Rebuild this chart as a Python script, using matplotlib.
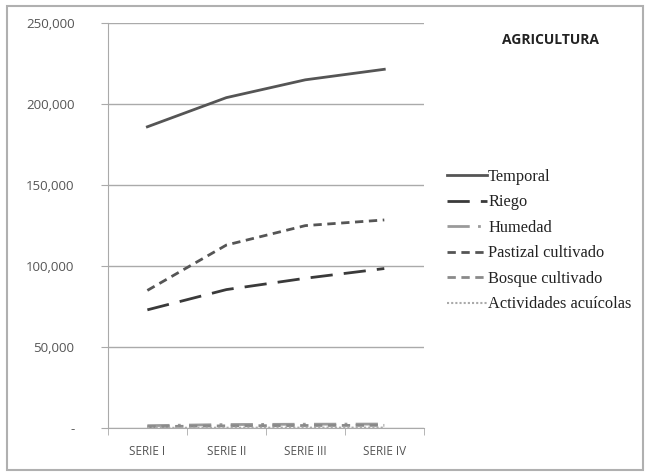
import matplotlib
matplotlib.use('Agg')
import matplotlib.pyplot as plt
import numpy as np

# data
series_labels = ['SERIE I', 'SERIE II', 'SERIE III', 'SERIE IV']
temporal = [186000, 204000, 215000, 221500]
riego = [73000, 85500, 92500, 98500]
humedad = [1500, 2200, 2400, 2500]
pastizal = [85000, 113000, 125000, 128500]
bosque = [900, 1400, 1600, 1700]
acuicolas = [150, 250, 300, 300]

yticks = [0, 50000, 100000, 150000, 200000, 250000]
ytick_labels = ['-', '50,000', '100,000', '150,000', '200,000', '250,000']

fig = plt.figure(figsize=(6.46, 4.72), dpi=100)
ax = fig.add_axes([0.167, 0.093, 0.489, 0.858])

x = np.arange(len(series_labels))
ax.plot(x, temporal, color='#555555', lw=2, ls='-', label='Temporal')
ax.plot(x, riego, color='#3a3a3a', lw=2, ls=(0, (8, 4)), label='Riego')
ax.plot(x, humedad, color='#9a9a9a', lw=2, ls=(0, (8, 3, 1, 3)), label='Humedad')
ax.plot(x, pastizal, color='#555555', lw=2, ls=(0, (3, 2)), label='Pastizal cultivado')
ax.plot(x, bosque, color='#8a8a8a', lw=2, ls=(0, (3, 2)), label='Bosque cultivado')
ax.plot(x, acuicolas, color='#aaaaaa', lw=1.5, ls=(0, (1, 1)), label='Actividades acuícolas')

ax.set_xlim(-0.5, len(series_labels) - 0.5)
ax.set_ylim(0, 250000)
ax.set_yticks(yticks)
ax.set_yticklabels(ytick_labels)
ax.set_xticks(x)
ax.set_xticklabels(series_labels)
ax.set_xticks(np.arange(-0.5, len(series_labels)), minor=True)

for lbl in ax.get_yticklabels():
    lbl.set_family('Open Sans')
    lbl.set_fontsize(9.5)
    lbl.set_color('#555555')
for lbl in ax.get_xticklabels():
    lbl.set_family('Open Sans')
    lbl.set_fontsize(8.5)
    lbl.set_color('#555555')
ax.tick_params(axis='x', which='major', length=0, pad=12)
ax.tick_params(axis='x', which='minor', length=5, color='#aaaaaa')
ax.tick_params(axis='y', length=5, color='#aaaaaa', pad=19)

ax.grid(axis='y', color='#aaaaaa', lw=1)
ax.set_axisbelow(True)
for side in ['top', 'right']:
    ax.spines[side].set_visible(False)
ax.spines['left'].set_color('#aaaaaa')
ax.spines['bottom'].set_color('#aaaaaa')

leg = fig.legend(loc='upper left', bbox_to_anchor=(0.682, 0.656), frameon=False,
                 prop={'family': 'Liberation Serif', 'size': 11.8},
                 handlelength=2.45, handletextpad=0.05, labelspacing=0.58,
                 borderaxespad=0)
for t in leg.get_texts():
    t.set_color('#222222')

fig.text(0.852, 0.915, 'AGRICULTURA', family='Open Sans', weight='bold',
         fontsize=10, color='#222222', ha='center', va='center')

border = plt.Rectangle((0.011, 0.005), 0.985, 0.983, transform=fig.transFigure,
                       fill=False, edgecolor='#b0b0b0', lw=1.5)
fig.patches.append(border)

plt.savefig('out.png', dpi=100)
